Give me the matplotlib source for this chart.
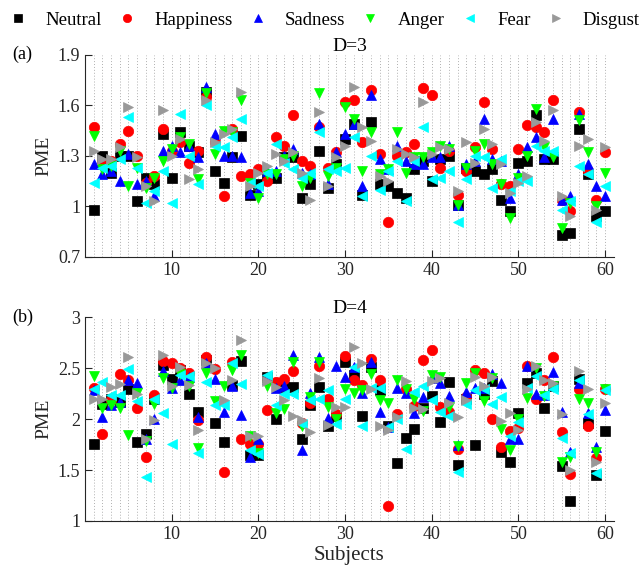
import numpy as np
import matplotlib
matplotlib.use("Agg")
import matplotlib.pyplot as plt

plt.rcParams['font.family'] = ['Liberation Serif', 'DejaVu Serif']

subjects = np.arange(1, 61)
emotions = ['Neutral', 'Happiness', 'Sadness', 'Anger', 'Fear', 'Disgust']

# panel (a): D=3
neutral_d3 = [0.98, 1.30, 1.20, 1.30, 1.30, 1.03, 1.17, 1.13, 1.43, 1.17,
              1.44, 1.36, 1.32, 1.68, 1.21, 1.14, 1.29, 1.42, 1.07, 1.13,
              1.17, 1.17, 1.29, 1.29, 1.05, 1.13, 1.33, 1.11, 1.25, 1.40,
              1.49, 1.07, 1.50, 1.13, 1.12, 1.08, 1.05, 1.22, 1.27, 1.15,
              1.28, 1.30, 1.01, 1.23, 1.21, 1.19, 1.22, 1.04, 0.97, 1.26,
              1.27, 1.54, 1.28, 1.28, 0.83, 0.84, 1.46, 1.19, 0.94, 0.97]
happiness_d3 = [1.47, 1.26, 1.27, 1.37, 1.45, 1.30, 1.14, 1.18, 1.46, 1.33,
                1.38, 1.26, 1.33, 1.65, 1.38, 1.06, 1.46, 1.18, 1.19, 1.22,
                1.15, 1.41, 1.36, 1.54, 1.27, 1.24, 1.47, 1.23, 1.32, 1.62,
                1.63, 1.38, 1.69, 1.31, 0.91, 1.30, 1.32, 1.37, 1.70, 1.66,
                1.23, 1.33, 1.07, 1.21, 1.35, 1.62, 1.34, 1.13, 1.12, 1.34,
                1.48, 1.47, 1.44, 1.63, 1.04, 0.97, 1.56, 1.21, 1.04, 1.32]
sadness_d3 = [1.25, 1.19, 1.21, 1.15, 1.31, 1.13, 1.15, 1.06, 1.33, 1.36,
              1.32, 1.36, 1.29, 1.71, 1.43, 1.30, 1.30, 1.29, 1.08, 1.09,
              1.21, 1.21, 1.30, 1.34, 1.20, 1.19, 1.49, 1.13, 1.32, 1.43,
              1.49, 1.12, 1.66, 1.28, 1.22, 1.36, 1.27, 1.25, 1.25, 1.29,
              1.29, 1.36, 1.01, 1.25, 1.27, 1.52, 1.28, 1.27, 1.05, 1.19,
              1.35, 1.41, 1.29, 1.52, 1.04, 1.06, 1.55, 1.25, 1.12, 1.06]
anger_d3 = [1.42, 1.22, 1.24, 1.33, 1.12, 1.23, 1.11, 1.17, 1.27, 1.34,
            1.41, 1.37, 1.16, 1.67, 1.31, 1.45, 1.44, 1.63, 1.14, 1.05,
            1.19, 1.19, 1.28, 1.30, 1.12, 1.17, 1.67, 1.18, 1.23, 1.59,
            1.52, 1.21, 1.44, 1.19, 1.22, 1.44, 1.20, 1.29, 1.29, 1.32,
            1.36, 1.34, 1.01, 1.23, 1.33, 1.37, 1.25, 1.13, 0.93, 1.17,
            1.30, 1.58, 1.35, 1.29, 0.87, 1.02, 1.51, 1.32, 1.00, 1.20]
fear_d3 = [1.14, 1.23, 1.24, 1.28, 1.53, 1.23, 1.02, 1.09, 1.21, 1.02,
           1.55, 1.30, 1.13, 1.60, 1.36, 1.35, 1.41, 1.52, 1.14, 1.12,
           1.20, 1.37, 1.26, 1.22, 1.17, 1.20, 1.44, 1.22, 1.21, 1.23,
           1.41, 1.06, 1.30, 1.10, 1.21, 1.27, 1.03, 1.27, 1.47, 1.16,
           1.17, 1.21, 0.91, 1.16, 1.30, 1.29, 1.11, 1.28, 1.09, 1.15,
           1.15, 1.36, 1.33, 1.33, 0.98, 1.03, 1.24, 1.19, 0.91, 1.12]
disgust_d3 = [1.33, 1.28, 1.28, 1.35, 1.59, 1.29, 1.12, 1.03, 1.57, 1.30,
              1.40, 1.16, 1.22, 1.63, 1.38, 1.43, 1.46, 1.68, 1.12, 1.20,
              1.24, 1.31, 1.27, 1.32, 1.20, 1.04, 1.56, 1.12, 1.29, 1.36,
              1.71, 1.47, 1.39, 1.18, 1.15, 1.34, 1.31, 1.29, 1.62, 1.31,
              1.35, 1.34, 1.09, 1.38, 1.26, 1.46, 1.37, 1.25, 1.08, 1.14,
              1.18, 1.50, 1.39, 1.57, 1.06, 0.94, 1.36, 1.40, 0.98, 1.35]

# panel (b): D=4
neutral_d4 = [1.76, 2.15, 2.20, 2.17, 2.29, 1.77, 1.85, 2.20, 2.53, 2.39,
              2.48, 2.25, 2.07, 2.58, 1.96, 1.77, 2.33, 2.57, 1.65, 1.65,
              2.41, 2.00, 2.31, 2.31, 1.80, 2.14, 2.31, 1.93, 2.03, 2.56,
              2.43, 2.03, 2.51, 2.28, 1.93, 1.57, 1.81, 1.90, 2.11, 2.23,
              1.97, 2.36, 1.55, 2.20, 1.75, 2.25, 2.37, 1.68, 1.58, 2.06,
              2.35, 2.45, 2.11, 2.32, 1.54, 1.20, 2.39, 1.96, 1.45, 1.88]
happiness_d4 = [2.30, 1.85, 2.19, 2.44, 2.38, 2.11, 1.63, 2.24, 2.57, 2.55,
                2.50, 2.45, 1.99, 2.61, 2.49, 1.48, 2.56, 1.80, 1.76, 1.76,
                2.09, 2.36, 2.39, 2.47, 1.96, 2.16, 2.52, 2.20, 2.05, 2.62,
                2.38, 2.33, 2.59, 2.38, 1.15, 2.05, 2.29, 2.13, 2.58, 2.68,
                2.12, 2.07, 1.71, 2.22, 2.48, 2.45, 2.00, 1.73, 1.88, 1.91,
                2.52, 2.20, 2.38, 2.61, 1.87, 1.46, 2.29, 1.93, 1.62, 2.29]
sadness_d4 = [2.28, 2.02, 2.14, 2.17, 2.38, 2.35, 1.80, 2.00, 2.47, 2.30,
              2.38, 2.41, 2.02, 2.55, 2.39, 2.07, 2.32, 2.04, 1.63, 1.80,
              2.39, 2.30, 2.32, 2.63, 1.70, 2.26, 2.61, 2.01, 2.52, 2.41,
              2.51, 2.26, 2.56, 2.07, 1.92, 2.30, 2.26, 2.06, 2.22, 2.40,
              2.35, 2.23, 1.75, 2.27, 2.30, 2.30, 2.44, 2.35, 1.80, 1.80,
              2.52, 2.25, 2.24, 2.46, 2.07, 1.68, 2.35, 2.06, 1.73, 2.09]
anger_d4 = [2.42, 2.11, 2.14, 2.11, 1.84, 2.26, 1.78, 2.15, 2.40, 2.30,
            2.44, 2.32, 1.72, 2.45, 2.18, 2.32, 2.48, 2.63, 1.83, 1.67,
            2.32, 2.06, 2.10, 2.56, 1.93, 2.22, 2.56, 2.12, 2.00, 2.29,
            2.26, 2.28, 2.44, 2.19, 2.16, 2.38, 2.29, 2.20, 2.08, 2.43,
            2.41, 2.12, 1.74, 2.35, 2.45, 2.18, 2.40, 1.90, 1.70, 2.00,
            2.21, 2.50, 2.23, 2.32, 1.58, 1.63, 2.20, 2.16, 1.68, 2.29]
fear_d4 = [2.29, 2.36, 2.24, 2.24, 2.49, 2.18, 1.43, 2.20, 2.06, 1.76,
           2.43, 2.42, 1.67, 2.36, 2.14, 2.14, 2.55, 2.34, 1.70, 1.66,
           2.43, 2.14, 2.25, 2.25, 1.95, 2.19, 2.20, 2.28, 1.95, 2.20,
           2.51, 1.93, 2.30, 2.30, 1.92, 2.00, 1.71, 2.27, 2.32, 2.19,
           2.07, 2.03, 1.48, 2.15, 2.28, 2.29, 2.15, 2.22, 1.83, 1.97,
           2.30, 2.42, 2.24, 2.29, 1.81, 1.67, 2.38, 2.05, 1.47, 2.28]
disgust_d4 = [2.20, 2.20, 2.31, 2.34, 2.61, 2.25, 1.80, 1.99, 2.63, 2.32,
              2.51, 2.33, 1.89, 2.55, 2.50, 2.19, 2.38, 2.78, 1.83, 1.83,
              2.37, 2.31, 2.19, 2.03, 1.99, 1.87, 2.40, 1.94, 2.12, 2.12,
              2.71, 2.55, 2.29, 1.93, 1.89, 2.02, 2.37, 2.11, 2.10, 2.37,
              2.40, 2.16, 2.02, 2.19, 2.41, 2.32, 2.41, 1.98, 2.06, 1.89,
              2.29, 2.52, 2.38, 2.35, 2.05, 1.50, 2.47, 2.29, 1.58, 2.16]

markers = ['s', 'o', '^', 'v', '<', '>']
colors = ['black', 'red', 'blue', '#00ff00', 'cyan', '#999999']
sizes = [6.5, 7.5, 7.5, 7.5, 7.5, 7.5]

panels = [
    ([neutral_d3, happiness_d3, sadness_d3, anger_d3, fear_d3, disgust_d3],
     'D=3', '(a)', (0.7, 1.9), [0.7, 1, 1.3, 1.6, 1.9]),
    ([neutral_d4, happiness_d4, sadness_d4, anger_d4, fear_d4, disgust_d4],
     'D=4', '(b)', (1, 3), [1, 1.5, 2, 2.5, 3]),
]

axis_col = '#262626'
fig = plt.figure(figsize=(6.4, 5.76), dpi=100)
ax_a = fig.add_axes([0.133, 0.554, 0.826, 0.351])
ax_b = fig.add_axes([0.133, 0.0955, 0.826, 0.354])

for ax, (series, title, tag, ylim, yticks) in zip([ax_a, ax_b], panels):
    for vals, m, c, ms, name in zip(series, markers, colors, sizes, emotions):
        ax.plot(subjects, vals, linestyle='none', marker=m, color=c,
                markersize=ms, markeredgewidth=0.5, label=name)
    ax.set_xlim(0, 61)
    ax.set_ylim(*ylim)
    ax.set_yticks(yticks)
    ax.set_yticklabels([f'{t:g}' for t in yticks])
    ax.set_xticks([10, 20, 30, 40, 50, 60])
    ax.set_xticks(subjects, minor=True)
    ax.grid(True, which='minor', axis='x', linestyle=(0, (1, 2)),
            color='#b0b0b0', linewidth=0.7)
    ax.grid(True, which='major', axis='x', linestyle=(0, (1, 2)),
            color='#b0b0b0', linewidth=0.7)
    ax.set_axisbelow(True)
    ax.tick_params(which='major', direction='in', length=5, labelsize=13,
                   colors=axis_col, width=0.8)
    ax.tick_params(which='minor', length=0)
    ax.spines['top'].set_visible(False)
    ax.spines['right'].set_visible(False)
    for s in ['left', 'bottom']:
        ax.spines[s].set_color(axis_col)
        ax.spines[s].set_linewidth(0.8)
    ax.set_ylabel('PME', fontsize=14, color=axis_col, labelpad=4)
    ax.set_title(title, fontsize=14, color='black', pad=2)
    ax.text(-0.138, 1.0, tag, transform=ax.transAxes, fontsize=13,
            ha='left', va='center')

ax_b.set_xlabel('Subjects', fontsize=15, color=axis_col, labelpad=2)

handles, labels = ax_a.get_legend_handles_labels()
fig.legend(handles, labels, loc='center', bbox_to_anchor=(0.508, 0.965),
           ncol=6, frameon=False, fontsize=13.5, handlelength=0.8,
           handletextpad=1.05, columnspacing=0.95, markerscale=0.8,
           borderpad=0.1)

fig.savefig('out.png', dpi=100)
